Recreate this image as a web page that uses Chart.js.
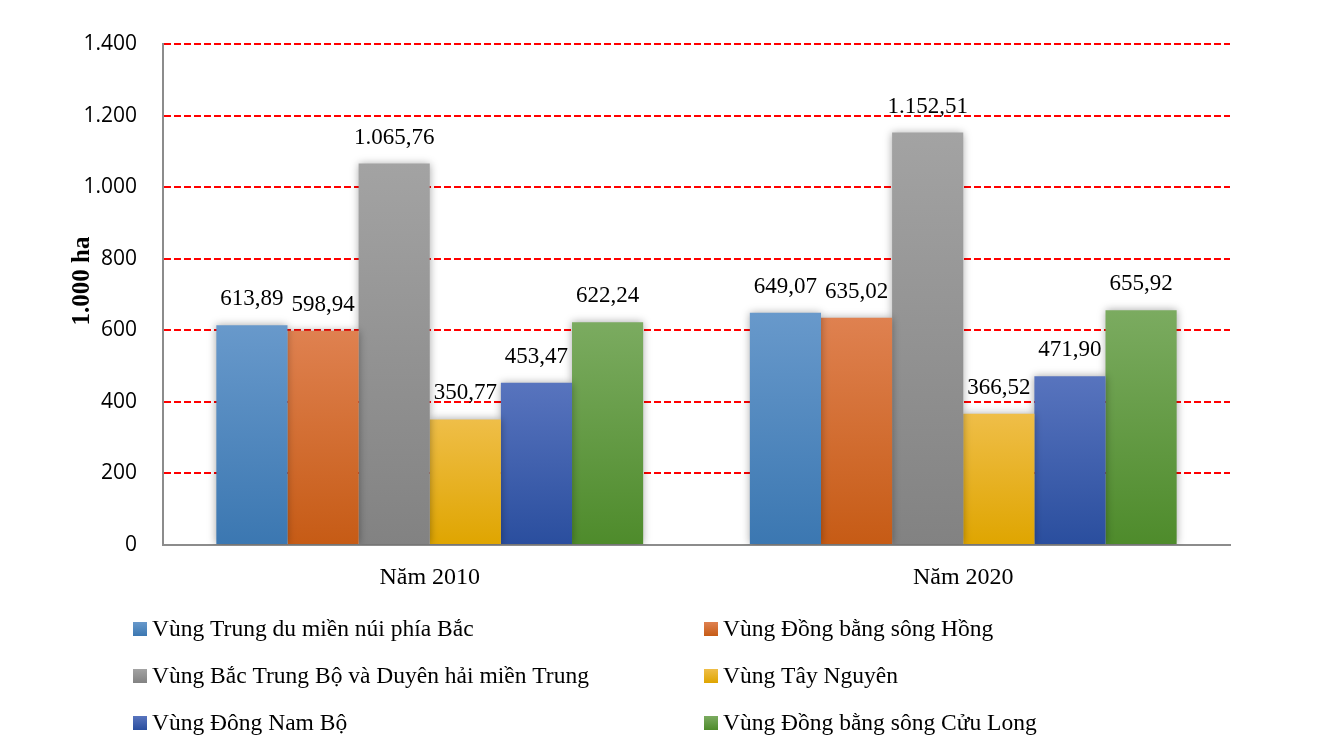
<!DOCTYPE html>
<html>
<head>
<meta charset="utf-8">
<script src="https://cdn.jsdelivr.net/npm/chart.js@4"></script>
<style>
  html, body { margin: 0; padding: 0; background: #fff; }
  #wrap { width: 1321px; height: 750px; position: relative; }
</style>
</head>
<body>
<div id="wrap"><canvas id="c" width="1321" height="750"></canvas></div>
<script>
// ---- Data ----
const categories = ['Năm 2010', 'Năm 2020'];
const seriesNames = [
  'Vùng Trung du miền núi phía Bắc',
  'Vùng Đồng bằng sông Hồng',
  'Vùng Bắc Trung Bộ và Duyên hải miền Trung',
  'Vùng Tây Nguyên',
  'Vùng Đông Nam Bộ',
  'Vùng Đồng bằng sông Cửu Long'
];
const trungDuMienNui = [613.89, 649.07];
const dongBangSongHong = [598.94, 635.02];
const bacTrungBo = [1065.76, 1152.51];
const tayNguyen = [350.77, 366.52];
const dongNamBo = [453.47, 471.90];
const dongBangCuuLong = [622.24, 655.92];
const yTicks = [0, 200, 400, 600, 800, 1000, 1200, 1400];
const yTitle = '1.000 ha';

// ---- Styles ----
const gradColors = [
  ['#6899cb', '#3b77b1'],
  ['#df8150', '#c65b15'],
  ['#a3a3a3', '#828282'],
  ['#efbe48', '#dfa500'],
  ['#5874be', '#2a4e9e'],
  ['#7bab60', '#4e8b2b']
];
const seriesValues = [trungDuMienNui, dongBangSongHong, bacTrungBo, tayNguyen, dongNamBo, dongBangCuuLong];

function fmtThousands(n) {
  return String(Math.round(n)).replace(/\B(?=(\d{3})+(?!\d))/g, '.');
}
function fmtVN(v) {
  const parts = v.toFixed(2).split('.');
  return parts[0].replace(/\B(?=(\d{3})+(?!\d))/g, '.') + ',' + parts[1];
}

function barGradient(i) {
  return function (ctx) {
    const chart = ctx.chart;
    const ys = chart.scales && chart.scales.y;
    if (!chart.chartArea || !ys || ctx.raw === undefined) return gradColors[i][1];
    const top = ys.getPixelForValue(ctx.raw);
    const bottom = ys.getPixelForValue(0);
    const g = chart.ctx.createLinearGradient(0, top, 0, bottom);
    g.addColorStop(0, gradColors[i][0]);
    g.addColorStop(1, gradColors[i][1]);
    return g;
  };
}

const datasets = seriesNames.map((name, i) => ({
  label: name,
  data: seriesValues[i],
  backgroundColor: barGradient(i),
  borderWidth: 0,
  categoryPercentage: 0.8,
  barPercentage: 1.0
}));

const SERIF = '"Liberation Serif", "Times New Roman", serif';
const SANS = '"Open Sans", "Liberation Sans", sans-serif';

const shadowPlugin = {
  id: 'barShadow',
  beforeDatasetDraw(chart) {
    const c = chart.ctx;
    c.save();
    c.shadowColor = 'rgba(0,0,0,0.35)';
    c.shadowBlur = 8;
    c.shadowOffsetX = 0;
    c.shadowOffsetY = 0;
  },
  afterDatasetDraw(chart) {
    chart.ctx.restore();
  }
};

const labelsPlugin = {
  id: 'valueLabels',
  afterDatasetsDraw(chart) {
    const c = chart.ctx;
    c.save();
    c.font = '23px ' + SERIF;
    c.fillStyle = '#000';
    c.textAlign = 'center';
    c.textBaseline = 'alphabetic';
    chart.data.datasets.forEach((ds, di) => {
      const meta = chart.getDatasetMeta(di);
      meta.data.forEach((bar, j) => {
        c.fillText(fmtVN(ds.data[j]), bar.x, bar.y - 20);
      });
    });
    c.restore();
  }
};

const extrasPlugin = {
  id: 'extras',
  afterDraw(chart) {
    const c = chart.ctx;
    c.save();
    // y-axis title
    c.font = 'bold 25px ' + SERIF;
    c.fillStyle = '#000';
    c.textAlign = 'center';
    c.textBaseline = 'middle';
    c.translate(83, 281);
    c.rotate(-Math.PI / 2);
    c.fillText(yTitle, 0, 0);
    c.restore();

    // legend, two columns
    c.save();
    c.font = '23.5px ' + SERIF;
    c.fillStyle = '#000';
    c.textAlign = 'left';
    c.textBaseline = 'middle';
    const colX = [133, 704];
    const rowY = [629, 676, 723];
    chart.data.datasets.forEach((ds, i) => {
      const x = colX[i % 2];
      const y = rowY[Math.floor(i / 2)];
      const g = c.createLinearGradient(0, y - 7, 0, y + 7);
      g.addColorStop(0, gradColors[i][0]);
      g.addColorStop(1, gradColors[i][1]);
      c.fillStyle = g;
      c.fillRect(x, y - 7, 14, 14);
      c.fillStyle = '#000';
      c.fillText(ds.label, x + 19, y + 1);
    });
    c.restore();
  }
};

new Chart(document.getElementById('c'), {
  type: 'bar',
  data: { labels: categories, datasets },
  options: {
    responsive: false,
    animation: false,
    devicePixelRatio: 1,
    layout: { padding: { left: 0, right: 91, top: 44, bottom: 145 } },
    plugins: {
      legend: { display: false },
      tooltip: { enabled: false },
      title: { display: false }
    },
    scales: {
      x: {
        grid: { display: false, drawTicks: false },
        border: { display: true, color: '#8c8c8c', width: 2 },
        ticks: { color: '#000', font: { family: SERIF, size: 24 }, padding: 18 },
        afterFit(scale) { scale.height = 60; }
      },
      y: {
        min: 0,
        max: 1400,
        afterBuildTicks(scale) { scale.ticks = yTicks.map(v => ({ value: v })); },
        grid: {
          drawTicks: false,
          lineWidth: 2,
          color: (ctx) => (ctx.tick && ctx.tick.value === 0) ? 'rgba(0,0,0,0)' : '#ff0000'
        },
        border: { display: true, color: '#8c8c8c', width: 2, dash: [7, 3] },
        ticks: {
          color: '#000',
          font: { family: SANS, size: 21 },
          padding: 26,
          callback: (v) => fmtThousands(v)
        },
        afterFit(scale) { scale.width = 163; }
      }
    }
  },
  plugins: [shadowPlugin, labelsPlugin, extrasPlugin]
});
</script>
</body>
</html>
